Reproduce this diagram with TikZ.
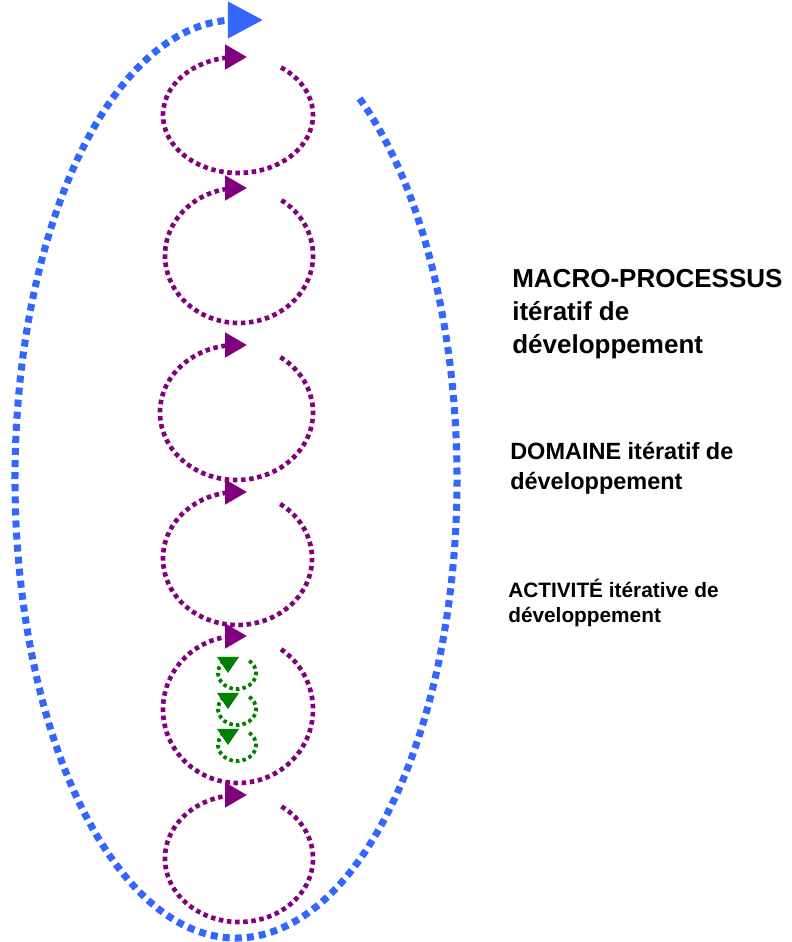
\documentclass[tikz,border=0pt]{standalone}
\usepackage{fontspec}
\setmainfont{Liberation Sans}
\usepackage{tikz}
\usetikzlibrary{arrows.meta, positioning}

\definecolor{loopblue}{RGB}{51,102,255}
\definecolor{looppurple}{RGB}{128,0,128}
\definecolor{loopgreen}{RGB}{0,128,0}

\tikzset{
  macroloop/.style={draw=loopblue, line width=5pt, dash pattern=on 5pt off 3.6pt,
    -{Triangle[length=25pt, width=25pt]}},
  domloop/.style={draw=looppurple, line width=3.3pt, dash pattern=on 3.2pt off 2.6pt,
    -{Triangle[length=15.5pt, width=17pt]}},
  actloop/.style={draw=loopgreen, line width=2.7pt, dash pattern=on 2.5pt off 2.2pt},
  acttip/.style={fill=loopgreen},
  legendtext/.style={inner sep=0pt, align=left, anchor=base west}
}

\begin{document}
\begin{tikzpicture}[x=0.025cm, y=0.025cm]
  \useasboundingbox (0,0) rectangle (791,942);

  % macro-processus
  \draw[macroloop] (236,463) ++(56:221 and 459)
    arc[start angle=56, end angle=-270, x radius=221, y radius=459] -- ++(27,0);

  % domaines
  \draw[domloop] (238,827) ++(55:75 and 58) arc[start angle=55, end angle=-270, x radius=75, y radius=58] -- ++(9,0);
  \draw[domloop] (239,686.5) ++(55:74 and 67.5) arc[start angle=55, end angle=-270, x radius=74, y radius=67.5] -- ++(8,0);
  \draw[domloop] (236.5,529.5) ++(55:76.5 and 67.5) arc[start angle=55, end angle=-270, x radius=76.5, y radius=67.5] -- ++(10.5,0);
  \draw[domloop] (237.5,383.5) ++(55:74.5 and 66.5) arc[start angle=55, end angle=-270, x radius=74.5, y radius=66.5] -- ++(9.5,0);
  \draw[domloop] (238,232.5) ++(55:75 and 73.5) arc[start angle=55, end angle=-270, x radius=75, y radius=73.5] -- ++(9,0);
  \draw[domloop] (239,83.5) ++(55:74 and 63.5) arc[start angle=55, end angle=-270, x radius=74, y radius=63.5] -- ++(8,0);

  % activites
  \draw[actloop] (237,269) ++(50:19 and 16) arc[start angle=50, end angle=-230, x radius=19, y radius=16];
  \draw[actloop] (237,233) ++(50:19 and 16) arc[start angle=50, end angle=-230, x radius=19, y radius=16];
  \draw[actloop] (237,197) ++(50:19 and 16) arc[start angle=50, end angle=-230, x radius=19, y radius=16];
  \fill[acttip] (217,285) -- (239,285) -- (228,269) -- cycle;
  \fill[acttip] (217,249) -- (239,249) -- (228,233) -- cycle;
  \fill[acttip] (217,213) -- (239,213) -- (228,197) -- cycle;

  \node (macro) [legendtext, font=\fontsize{18.5}{23.8}\selectfont\bfseries] at (512,588)
    {MACRO-PROCESSUS\\itératif de\\développement};
  \node (domaine) [legendtext, font=\fontsize{16.7}{22}\selectfont\bfseries] at (510,452)
    {DOMAINE itératif de\\développement};
  \node (activite) [legendtext, font=\fontsize{14.8}{17.8}\selectfont\bfseries] at (508,319)
    {ACTIVITÉ itérative de\\développement};
\end{tikzpicture}
\end{document}
